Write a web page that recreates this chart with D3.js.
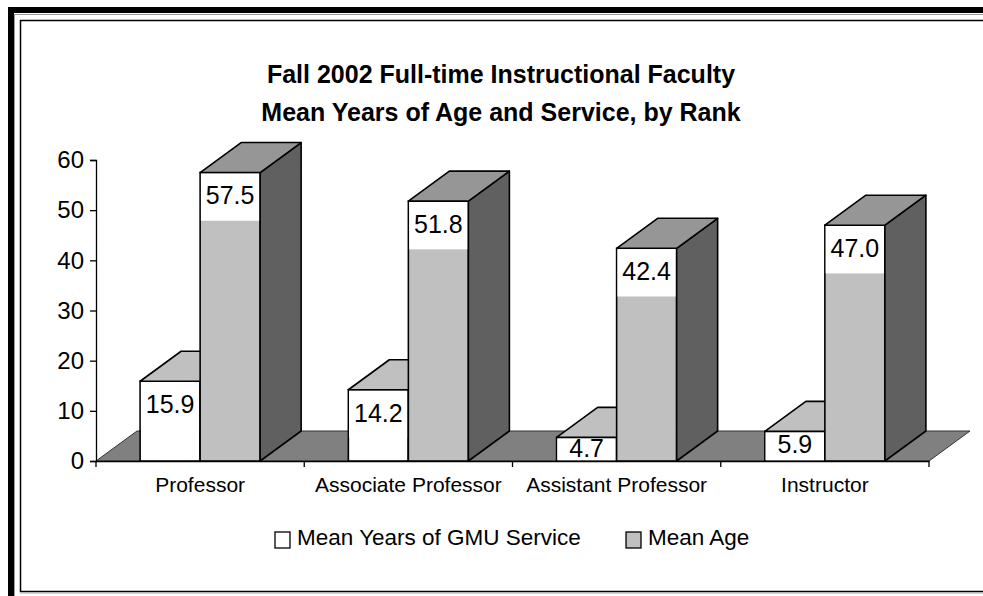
<!DOCTYPE html>
<html>
<head>
<meta charset="utf-8">
<script src="https://cdn.jsdelivr.net/npm/d3@7"></script>
<style>
  body { margin: 0; background: #fff; }
  svg { display: block; font-family: "Liberation Sans", Arial, sans-serif; }
</style>
</head>
<body>
<svg id="chart" width="983" height="596"></svg>
<script>
const categories = ["Professor", "Associate Professor", "Assistant Professor", "Instructor"];
const serviceYears = [15.9, 14.2, 4.7, 5.9];
const meanAge = [57.5, 51.8, 42.4, 47.0];
const seriesNames = ["Mean Years of GMU Service", "Mean Age"];
const yTicks = [0, 10, 20, 30, 40, 50, 60];
const titleLines = ["Fall 2002 Full-time Instructional Faculty", "Mean Years of Age and Service, by Rank"];

const svg = d3.select("#chart");

// frame: heavy outer border + thin inner border
svg.append("rect").attr("x", 11).attr("y", 10).attr("width", 1100).attr("height", 700)
  .attr("fill", "none").attr("stroke", "#000").attr("stroke-width", 6);
svg.append("rect").attr("x", 14.5).attr("y", 14.5).attr("width", 1100).attr("height", 700)
  .attr("fill", "none").attr("stroke", "#999").attr("stroke-width", 1);
svg.append("rect").attr("x", 20.5).attr("y", 20.5).attr("width", 1100).attr("height", 571)
  .attr("fill", "none").attr("stroke", "#000").attr("stroke-width", 1.5);
svg.append("line").attr("x1", 20).attr("x2", 983).attr("y1", 593).attr("y2", 593)
  .attr("stroke", "#aaa").attr("stroke-width", 1);

// title
svg.append("text")
  .attr("x", 501).attr("text-anchor", "middle")
  .style("font-weight", "bold").style("font-size", "25px")
  .selectAll("tspan").data(titleLines).join("tspan")
  .attr("x", 501).attr("y", (d, i) => 83 + i * 38)
  .text(d => d);

const plotLeft = 96, plotRight = 929, plotBase = 461, plotTop = 160;
const dx = 41, dy = -30;

const x = d3.scaleBand().domain(categories).range([plotLeft, plotRight]).padding(0);
const xs = d3.scaleBand().domain(seriesNames).range([0, x.bandwidth()]).paddingInner(0).paddingOuter(0.735);
const y = d3.scaleLinear().domain([0, 60]).range([plotBase, plotTop]);

const fills = {
  front: ["#ffffff", "#c0c0c0"],
  top: ["#c0c0c0", "#969696"],
  side: ["#808080", "#606060"]
};

// floor
const floor = [[plotLeft, plotBase], [plotLeft + dx, plotBase + dy], [plotRight + dx, plotBase + dy], [plotRight, plotBase]];
svg.append("polygon").attr("points", floor.join(" "))
  .attr("fill", "#808080").attr("stroke", "#333").attr("stroke-width", 1);

// y axis
const yAxis = svg.append("g")
  .attr("transform", `translate(${plotLeft},0)`)
  .call(d3.axisLeft(y).tickValues(yTicks).tickSize(6).tickPadding(6).tickFormat(d3.format("d")));
yAxis.attr("font-family", null);
yAxis.select(".domain").attr("stroke", "#000").attr("stroke-width", 1.3);
yAxis.selectAll(".tick line").attr("stroke", "#000").attr("stroke-width", 1.3);
yAxis.selectAll(".tick text").style("font-size", "24px").attr("fill", "#000");

// x axis: baseline, labels, ticks at category borders
const xAxis = svg.append("g")
  .attr("transform", `translate(0,${plotBase})`)
  .call(d3.axisBottom(x).tickSize(0).tickPadding(16));
xAxis.attr("font-family", null);
xAxis.select(".domain").attr("stroke", "#000").attr("stroke-width", 1.3);
xAxis.selectAll(".tick text").style("font-size", "21px").attr("fill", "#000");
const borders = categories.map(c => x(c)).concat([x(categories[categories.length - 1]) + x.bandwidth()]);
svg.append("g").selectAll("line").data(borders).join("line")
  .attr("x1", d => d).attr("x2", d => d)
  .attr("y1", plotBase).attr("y2", plotBase + 6)
  .attr("stroke", "#000").attr("stroke-width", 1.3);

// bars
const values = [serviceYears, meanAge];
const bars = svg.append("g");
categories.forEach((cat, ci) => {
  values.forEach((vals, si) => {
    const v = vals[ci];
    const x0 = x(cat) + xs(seriesNames[si]);
    const x1 = x0 + xs.bandwidth();
    const yt = y(v);
    const h = plotBase - yt;
    const g = bars.append("g");

    g.append("rect").attr("x", x0).attr("y", yt).attr("width", x1 - x0).attr("height", h)
      .attr("fill", fills.front[si]).attr("stroke", "#000").attr("stroke-width", 1.6);

    // data label with white background
    const boxH = Math.min(49, h);
    g.append("rect").attr("x", x0 + 0.8).attr("y", yt + 0.8).attr("width", x1 - x0 - 1.6).attr("height", boxH - 1.6)
      .attr("fill", "#fff");
    g.append("text")
      .attr("x", (x0 + x1) / 2).attr("y", yt + Math.min(23, h * 0.45)).attr("dy", "0.35em")
      .attr("text-anchor", "middle").style("font-size", "25px")
      .text(d3.format(".1f")(v));

    const topFace = [[x0, yt], [x0 + dx, yt + dy], [x1 + dx, yt + dy], [x1, yt]];
    const sideFace = [[x1, yt], [x1 + dx, yt + dy], [x1 + dx, plotBase + dy], [x1, plotBase]];
    g.append("polygon").attr("points", sideFace.join(" "))
      .attr("fill", fills.side[si]).attr("stroke", "#000").attr("stroke-width", 1.6).attr("stroke-linejoin", "round");
    g.append("polygon").attr("points", topFace.join(" "))
      .attr("fill", fills.top[si]).attr("stroke", "#000").attr("stroke-width", 1.6).attr("stroke-linejoin", "round");
  });
});

// legend
const legendX = [275, 626];
const legend = svg.append("g").selectAll("g").data(seriesNames).join("g")
  .attr("transform", (d, i) => `translate(${legendX[i]},532)`);
legend.append("rect").attr("width", 15).attr("height", 16)
  .attr("fill", (d, i) => fills.front[i]).attr("stroke", "#000").attr("stroke-width", 1.3);
legend.append("text").attr("x", 22).attr("y", 13).style("font-size", "22.5px").text(d => d);
</script>
</body>
</html>
